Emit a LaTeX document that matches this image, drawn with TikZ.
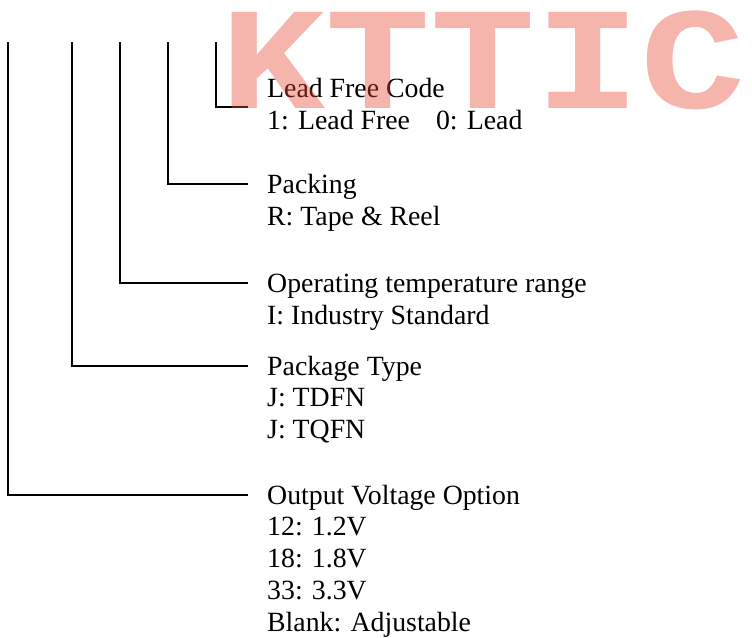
\documentclass[tikz,border=0pt]{standalone}
\usepackage{fontspec}
\setmainfont{Liberation Serif}
\newfontfamily\markfont{Liberation Mono}
\usepackage{tikz}
\usetikzlibrary{positioning}
\definecolor{markred}{RGB}{230,70,50}

\begin{document}
\begin{tikzpicture}[x=1pt, y=-1pt,
  font=\fontsize{27.8}{32}\selectfont,
  title node/.style={anchor=base west, inner xsep=19pt, inner ysep=0pt, text height=28pt, text depth=10pt},
  info node/.style={anchor=north west, inner xsep=19pt, inner ysep=0pt, align=left},
  lead/.style={line width=1.8pt}]
  \useasboundingbox (0,0) rectangle (752,637);

  \coordinate (c1) at (8,42);
  \coordinate (c2) at (72,42);
  \coordinate (c3) at (120,42);
  \coordinate (c4) at (168,42);
  \coordinate (c5) at (216,42);

  \node[title node] (lf) at (248,97) {Lead Free Code};
  \node[info node, below=3pt of lf.south west, anchor=north west] (lfv) {1: Lead Free\hspace{26pt}0: Lead};

  \node[title node] (pk) at (248,193) {Packing};
  \node[info node, below=3pt of pk.south west, anchor=north west] (pkv) {R: Tape \& Reel};

  \node[title node] (op) at (248,292) {Operating temperature range};
  \node[info node, below=3pt of op.south west, anchor=north west] (opv) {I: Industry Standard};

  \node[title node] (pt) at (248,375) {Package Type};
  \node[info node, below=3pt of pt.south west, anchor=north west] (ptv) {J: TDFN\\J: TQFN};

  \node[title node] (ov) at (248,504) {Output Voltage Option};
  \node[info node, below=3pt of ov.south west, anchor=north west] (ovv) {12: 1.2V\\18: 1.8V\\33: 3.3V\\Blank: Adjustable};

  \draw[lead] (c5) |- (lf.south west);
  \draw[lead] (c4) |- (pk.west);
  \draw[lead] (c3) |- (op.west);
  \draw[lead] (c2) |- (pt.west);
  \draw[lead] (c1) |- (ov.west);

  % watermark over the top
  \node[anchor=base west, inner sep=0pt, xscale=1.2, transform shape,
        font=\markfont\bfseries\fontsize{146}{146}\selectfont,
        text=markred, text opacity=0.4] (mark) at (220,108) {KTTIC};
\end{tikzpicture}
\end{document}
